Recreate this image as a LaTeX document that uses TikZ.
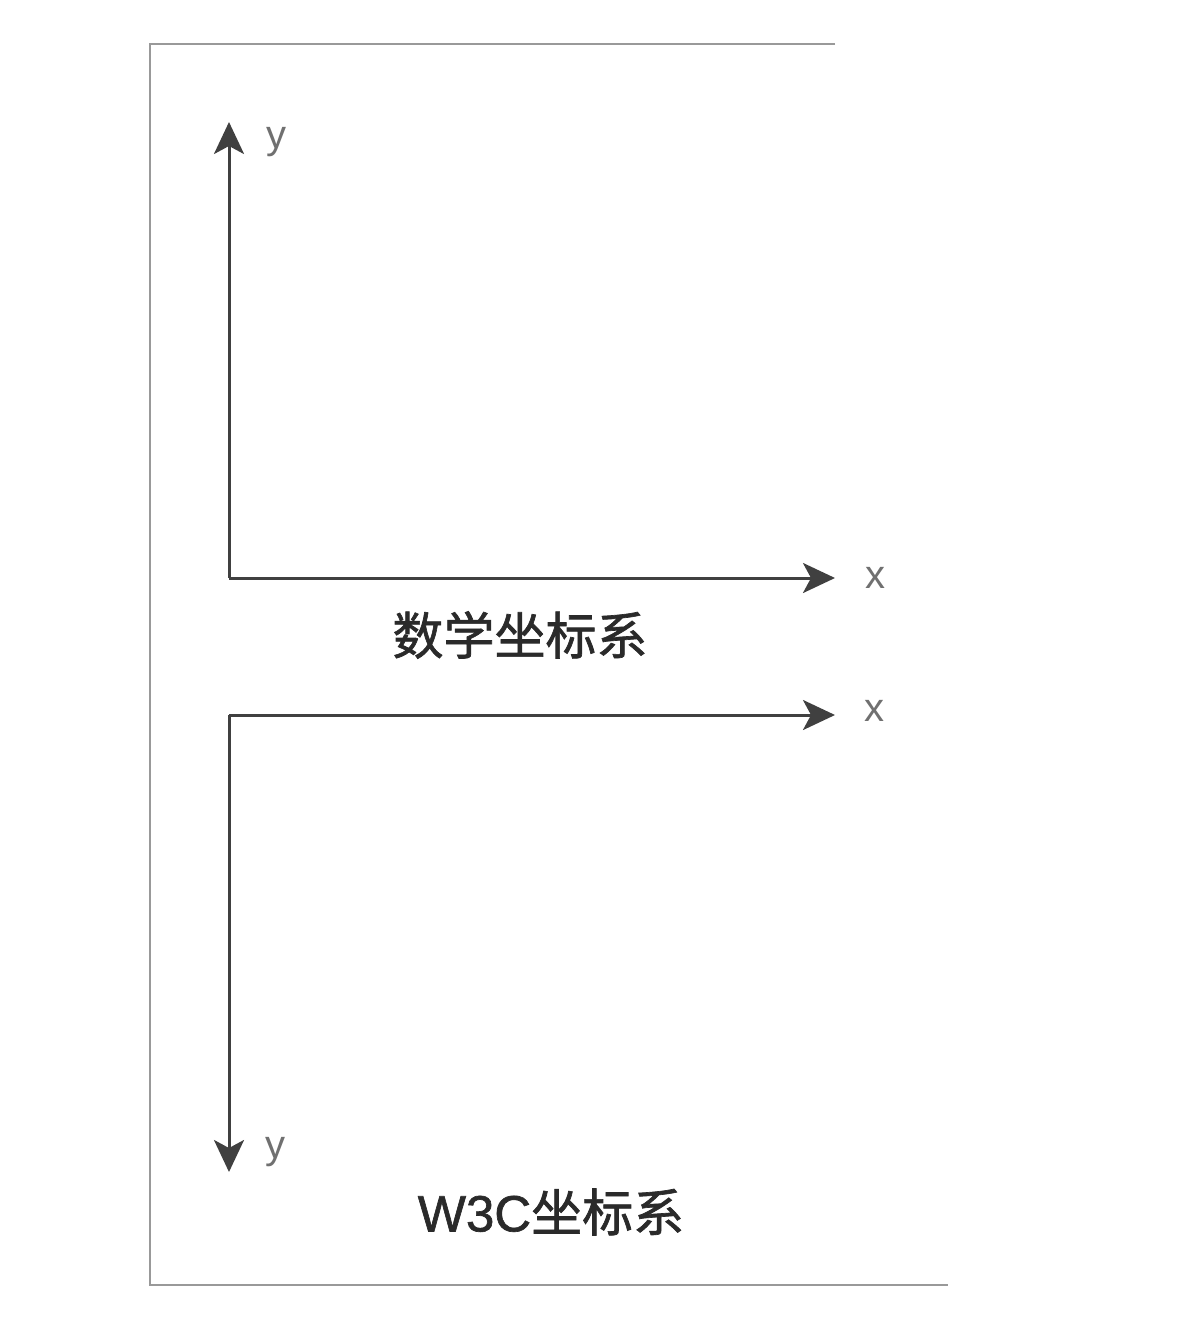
\documentclass[tikz,border=0pt]{standalone}
\usepackage{fontspec}
\newfontfamily\cjk{Noto Sans CJK SC}[FakeBold=1.3]
\newfontfamily\lbl{Liberation Sans}
\newfontfamily\latn{Liberation Sans}[FakeBold=1.3]
\usetikzlibrary{arrows.meta}
\definecolor{axis}{HTML}{404040}
\definecolor{frame}{HTML}{999999}
\definecolor{txt}{HTML}{2A2A2A}
\definecolor{lab}{HTML}{707070}
\tikzset{
  axisline/.style={draw=axis, line width=3pt, -{Stealth[length=32pt, width=30pt, inset=8pt]}},
  axislabel/.style={text=lab, font=\lbl\fontsize{40}{40}\selectfont, inner sep=0pt},
  title/.style={text=txt, font=\cjk\fontsize{51}{51}\selectfont, inner sep=0pt},
  frameline/.style={draw=frame, line width=2.5pt}
}
\begin{document}
\begin{tikzpicture}[x=1pt, y=-1pt]
\useasboundingbox (0,0) rectangle (1184,1328);
% frame
\coordinate (ftl) at (150,44);
\coordinate (ftr) at (835,44);
\coordinate (fbl) at (150,1285);
\coordinate (fbr) at (948,1285);
\draw[frameline] (ftr) -- (ftl) -- (fbl) -- (fbr);
% math coordinate system
\coordinate (o1) at (229,578);
\coordinate (y1) at (229,122);
\coordinate (x1) at (835,578);
\draw[axisline] (o1) -- (y1);
\draw[axisline] (o1) -- (x1);
\node[axislabel] (ly1) at (276,142) {y};
\node[axislabel] (lx1) at (875,578) {x};
\node[title] (t1) at (520,635) {数学坐标系};
% W3C coordinate system
\coordinate (o2) at (229,715);
\coordinate (y2) at (229,1172);
\coordinate (x2) at (835,715);
\draw[axisline] (o2) -- (y2);
\draw[axisline] (o2) -- (x2);
\node[axislabel] (ly2) at (275,1152) {y};
\node[axislabel] (lx2) at (874,711) {x};
\node[title] (t2) at (551,1212) {{\latn W3C}坐标系};
\end{tikzpicture}
\end{document}
